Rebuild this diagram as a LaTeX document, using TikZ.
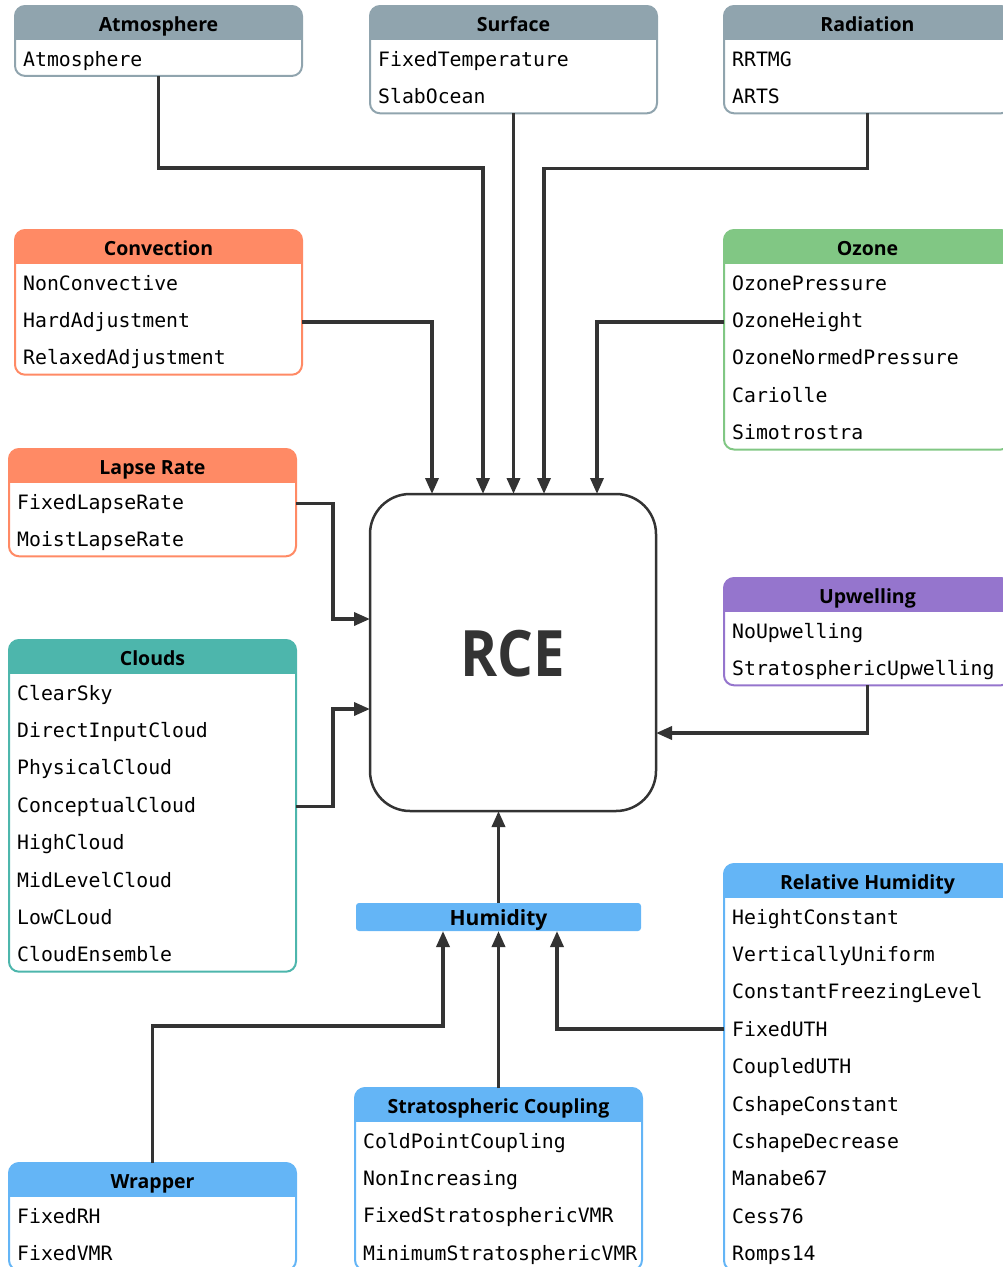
\documentclass[tikz,border=0pt]{standalone}
\usepackage{fontspec}
\setmainfont{Open Sans}
\setmonofont{DejaVu Sans Mono}
\newfontfamily\rcefont{Open Sans}[FakeStretch=0.88]
\usetikzlibrary{arrows.meta,calc}
\definecolor{cgray}{HTML}{90A4AE}
\definecolor{corange}{HTML}{FF8A65}
\definecolor{cgreen}{HTML}{81C784}
\definecolor{cteal}{HTML}{4DB6AC}
\definecolor{cpurple}{HTML}{9575CD}
\definecolor{cblue}{HTML}{64B5F6}
\definecolor{cline}{HTML}{333333}
\tikzset{
  frame/.style={draw, line width=2pt, rounded corners=10pt, inner sep=0pt, outer sep=0pt, fill=none},
  headtext/.style={font=\fontsize{19.5}{22}\selectfont\bfseries, text=black, inner sep=0pt},
  itemtext/.style={font=\ttfamily\fontsize{19.8}{22}\selectfont, text=black, inner sep=0pt},
  conn/.style={draw=cline, line width=3.5pt, -{Triangle[length=16pt,width=13pt]}},
}
% #1 name, #2 left x, #3 top y, #4 rows, #5 colour, #6 title, #7 items
\newcommand\mkbox[7]{%
  \pgfmathsetmacro\bh{34+37.4*#4-1.5}%
  \begin{scope}
    \clip[rounded corners=10pt] (#2,#3) rectangle ++(287,\bh);
    \fill[#5] (#2,#3) rectangle ++(287,34);
  \end{scope}
  \node[frame, draw=#5, minimum width=287pt, minimum height=\bh pt, anchor=north west] (#1) at (#2,#3) {};
  \node[headtext, anchor=base] (#1-title) at (#2+143.5,#3+25) {#6};
  \foreach \t [count=\i from 0] in {#7} {
    \node[itemtext, anchor=base west] (#1-\i) at (#2+8,#3+60+37.4*\i) {\t};
  }%
}
\begin{document}
\begin{tikzpicture}[x=1pt,y=-1pt]
\useasboundingbox (0,0) rectangle (1003,1267);
\clip (0,0) rectangle (1003,1267);

\mkbox{atm}{15}{6}{1}{cgray}{Atmosphere}{Atmosphere}
\mkbox{sfc}{370}{6}{2}{cgray}{Surface}{FixedTemperature,SlabOcean}
\mkbox{rad}{724}{6}{2}{cgray}{Radiation}{RRTMG,ARTS}
\mkbox{conv}{15}{230}{3}{corange}{Convection}{NonConvective,HardAdjustment,RelaxedAdjustment}
\mkbox{oz}{724}{230}{5}{cgreen}{Ozone}{OzonePressure,OzoneHeight,OzoneNormedPressure,Cariolle,Simotrostra}
\mkbox{lapse}{9}{449}{2}{corange}{Lapse Rate}{FixedLapseRate,MoistLapseRate}
\mkbox{clouds}{9}{640}{8}{cteal}{Clouds}{ClearSky,DirectInputCloud,PhysicalCloud,ConceptualCloud,HighCloud,MidLevelCloud,LowCLoud,CloudEnsemble}
\mkbox{up}{724}{578}{2}{cpurple}{Upwelling}{NoUpwelling,StratosphericUpwelling}
\mkbox{rh}{724}{864}{10}{cblue}{Relative Humidity}{HeightConstant,VerticallyUniform,ConstantFreezingLevel,FixedUTH,CoupledUTH,CshapeConstant,CshapeDecrease,Manabe67,Cess76,Romps14}
\mkbox{sc}{355}{1088}{4}{cblue}{Stratospheric Coupling}{ColdPointCoupling,NonIncreasing,FixedStratosphericVMR,MinimumStratosphericVMR}
\mkbox{wr}{9}{1163}{2}{cblue}{Wrapper}{FixedRH,FixedVMR}

% central node
\node[draw=cline, line width=2.5pt, rounded corners=40pt, minimum width=286pt, minimum height=317pt, inner sep=0pt, outer sep=0pt] (rce) at (513,652.5) {};
\node[font=\rcefont\fontsize{64}{70}\selectfont\bfseries, text=cline, anchor=base, inner sep=0pt] (rcetext) at (513,676) {RCE};

% humidity bar
\node[fill=cblue, rounded corners=3pt, minimum width=285pt, minimum height=28pt, inner sep=0pt, outer sep=0pt] (hum) at (498.5,917) {};
\node[headtext, font=\fontsize{21}{24}\selectfont\bfseries, anchor=base] (humtext) at (498.5,925) {Humidity};

% connectors into RCE
\draw[conn] (atm.south) -- ++(0,92) -| ([xshift=-30pt]rce.north);
\draw[conn] (sfc.south) -- (sfc.south |- rce.north);
\draw[conn] (rad.south) -- ++(0,55) -| ([xshift=31pt]rce.north);
\draw[conn] (conv.east |- conv-1) -| ([xshift=-81pt]rce.north);
\draw[conn] (oz.west |- oz-1) -| ([xshift=84pt]rce.north);
\draw[conn] (lapse.east |- lapse-0) -- ++(37,0) |- ([yshift=33.5pt]rce.west);
\draw[conn] (clouds.east |- clouds-3) -- ++(37,0) |- ([yshift=-56.5pt]rce.west);
\draw[conn] (up.south) |- ([yshift=-80.5pt]rce.east);
\draw[conn] (hum.north) -- (hum.north |- rce.south);

% connectors into Humidity
\draw[conn] (wr.north) -- ++(0,-137) -| ([xshift=-55.5pt]hum.south);
\draw[conn] (sc.north) -- (sc.north |- hum.south);
\draw[conn] (rh.west |- rh-3) -| ([xshift=58.5pt]hum.south);
\end{tikzpicture}
\end{document}
